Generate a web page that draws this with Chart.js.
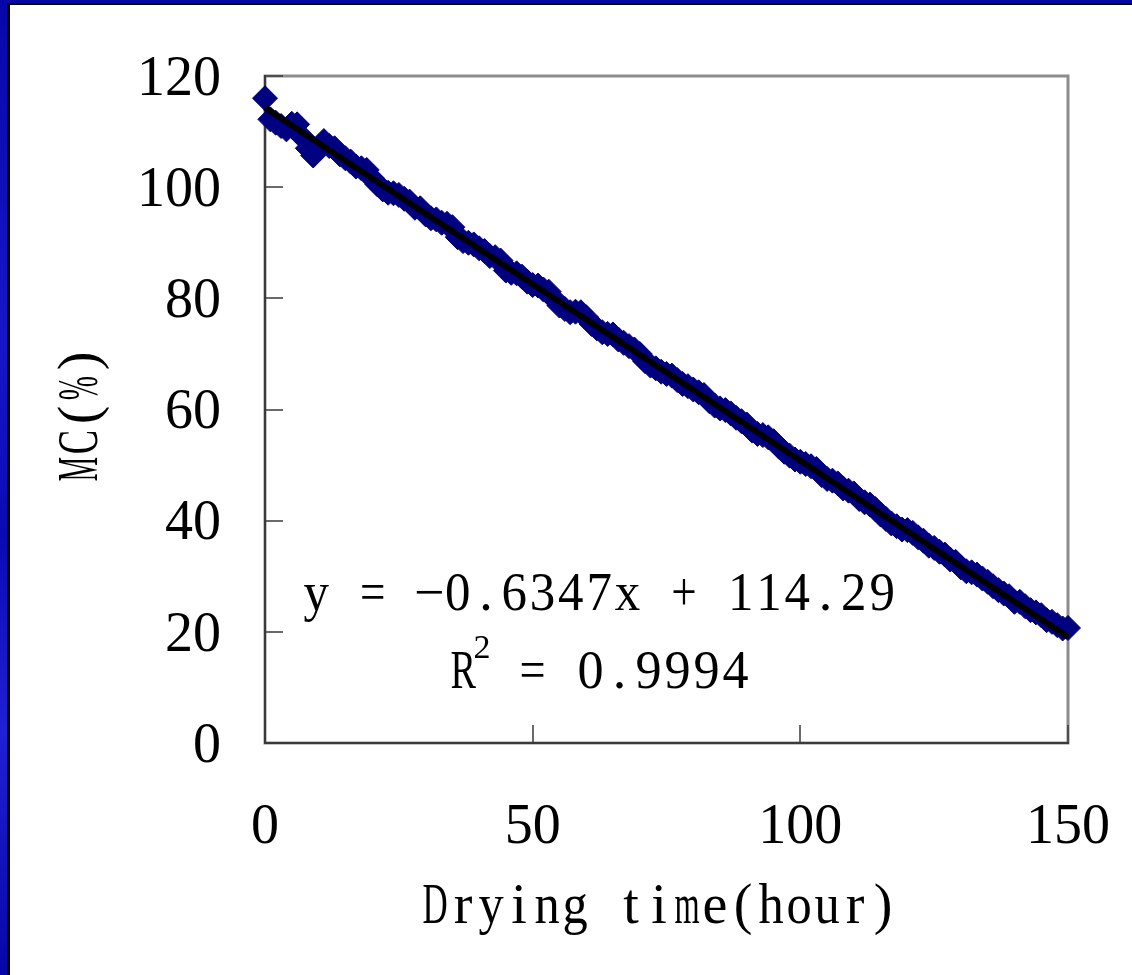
<!DOCTYPE html>
<html>
<head>
<meta charset="utf-8">
<script src="https://cdn.jsdelivr.net/npm/chart.js@4/dist/chart.umd.min.js"></script>
<style>
  html, body { margin: 0; padding: 0; }
  body {
    width: 1132px; height: 975px; position: relative; overflow: hidden;
    background: linear-gradient(180deg, #0707a8 0%, #1616c8 35%, #0a0ab4 55%, #2020d4 75%, #0606a6 100%);
  }
  .frame {
    position: absolute; left: 7px; top: 3px; right: 0; bottom: 0;
    background: #fff; border-left: 3px solid #000; border-top: 2px solid #000;
  }
  .wrap { position: absolute; left: 0; top: 0; width: 1132px; height: 975px; }
</style>
</head>
<body>
<div class="frame"></div>
<div class="wrap"><canvas id="chart" width="1132" height="975"></canvas></div>
<script>
// drying time (hour) and moisture content (%)
const hours = [
  0, 1, 2, 3, 4, 5, 6, 7, 8, 9, 10, 11, 12, 13, 14, 15, 16, 17, 18, 19,
  20, 21, 22, 23, 24, 25, 26, 27, 28, 29, 30, 31, 32, 33, 34, 35, 36, 37, 38, 39,
  40, 41, 42, 43, 44, 45, 46, 47, 48, 49, 50, 51, 52, 53, 54, 55, 56, 57, 58, 59,
  60, 61, 62, 63, 64, 65, 66, 67, 68, 69, 70, 71, 72, 73, 74, 75, 76, 77, 78, 79,
  80, 81, 82, 83, 84, 85, 86, 87, 88, 89, 90, 91, 92, 93, 94, 95, 96, 97, 98, 99,
  100, 101, 102, 103, 104, 105, 106, 107, 108, 109, 110, 111, 112, 113, 114, 115, 116, 117, 118, 119,
  120, 121, 122, 123, 124, 125, 126, 127, 128, 129, 130, 131, 132, 133, 134, 135, 136, 137, 138, 139,
  140, 141, 142, 143, 144, 145, 146, 147, 148, 149, 150];
const moisture = [
  116.0, 112.2, 111.6, 111.0, 110.4, 111.4, 111.3, 109.0, 107.0, 105.7, 107.2, 108.3, 107.4, 107.0, 105.9, 105.2, 104.6, 103.7, 103.4, 103.1,
  101.6, 100.5, 99.6, 99.0, 98.9, 98.6, 97.9, 97.4, 96.3, 96.2, 95.1, 94.4, 94.2, 93.6, 93.4, 92.8, 91.0, 90.3, 90.0, 89.7,
  89.0, 88.5, 87.6, 87.4, 86.8, 85.0, 84.6, 84.5, 83.9, 83.0, 82.4, 82.3, 81.6, 81.2, 79.9, 78.7, 78.1, 77.5, 77.6, 77.5,
  76.6, 75.4, 74.6, 73.9, 73.6, 73.5, 72.6, 72.0, 71.4, 70.8, 70.0, 68.7, 67.9, 67.4, 66.8, 66.4, 66.1, 65.3, 64.6, 64.2,
  63.6, 63.1, 62.6, 61.5, 60.7, 60.2, 59.9, 59.3, 58.5, 57.9, 57.3, 56.2, 55.6, 55.4, 55.0, 54.3, 53.3, 52.4, 51.7, 51.0,
  50.6, 50.2, 49.8, 49.3, 48.2, 47.5, 47.2, 46.7, 45.8, 45.4, 44.9, 43.9, 43.3, 42.9, 42.1, 41.1, 40.3, 39.5, 39.0, 38.4,
  38.3, 37.8, 37.0, 36.4, 35.5, 35.1, 34.4, 33.9, 33.0, 32.6, 31.6, 30.9, 30.7, 30.3, 29.6, 29.0, 28.2, 27.5, 26.9, 26.4,
  25.4, 25.4, 24.6, 23.9, 23.5, 23.0, 22.1, 21.8, 21.2, 20.6, 20.7];

// linear trendline from the figure
const slope = -0.6347;
const intercept = 114.29;
const trendRange = [0, 150];

const xTicks = [0, 50, 100, 150];
const yTicks = [0, 20, 40, 60, 80, 100, 120];

const xTitle = 'Drying time(hour)';
const yTitle = 'MC(%)';
const eqLine = 'y = \u22120.6347x + 114.29';
const r2Value = ' = 0.9994';

const serif = "'Liberation Serif', 'DejaVu Serif', serif";

// one char per cell, squeezing wide glyphs, to look like the half-width font of the original
function monoText(ctx, text, x0, cell, y) {
  for (let i = 0; i < text.length; i++) {
    const ch = text[i];
    const w = ctx.measureText(ch).width;
    const k = ch === '\u2212' ? 1 : Math.min(1, cell * 0.9 / w);
    ctx.save();
    ctx.translate(x0 + (i + 0.5) * cell, y);
    ctx.scale(k, 1);
    ctx.fillText(ch, 0, 0);
    ctx.restore();
  }
}

const decorations = {
  id: 'decorations',
  beforeDraw(chart) {
    const {ctx, chartArea: a} = chart;
    ctx.save();
    ctx.strokeStyle = '#8c8c8c';
    ctx.lineWidth = 3;
    ctx.strokeRect(a.left, a.top, a.right - a.left, a.bottom - a.top);
    ctx.restore();
  },
  beforeDatasetsDraw(chart) {
    const {ctx, chartArea: a, scales: {x, y}} = chart;
    ctx.save();
    ctx.strokeStyle = '#3a3a3a';
    ctx.lineWidth = 1.5;
    ctx.beginPath();
    yTicks.forEach(v => {
      const py = Math.round(y.getPixelForValue(v));
      ctx.moveTo(a.left, py);
      ctx.lineTo(a.left + 18, py);
    });
    xTicks.forEach(v => {
      const px = Math.round(x.getPixelForValue(v));
      ctx.moveTo(px, a.bottom);
      ctx.lineTo(px, a.bottom - 18);
    });
    ctx.stroke();
    ctx.restore();
  },
  afterDraw(chart) {
    const {ctx} = chart;
    ctx.save();
    ctx.fillStyle = '#000';
    ctx.textAlign = 'center';
    ctx.textBaseline = 'alphabetic';

    // axis titles
    ctx.font = '56px ' + serif;
    monoText(ctx, xTitle, 421, 28, 923);
    ctx.save();
    ctx.translate(97, 415);
    ctx.rotate(-Math.PI / 2);
    monoText(ctx, yTitle, -67.5, 27, 0);
    ctx.restore();

    // regression equation
    ctx.font = '54px ' + serif;
    monoText(ctx, eqLine, 302, 28.3, 610);
    monoText(ctx, 'R', 449, 28.3, 688);
    ctx.font = '34px ' + serif;
    ctx.fillText('2', 482, 658);
    ctx.font = '54px ' + serif;
    monoText(ctx, r2Value, 489, 29, 688);
    ctx.restore();
  }
};

const chart = new Chart(document.getElementById('chart'), {
  type: 'scatter',
  data: {
    datasets: [
      {
        label: 'trend',
        type: 'line',
        data: trendRange.map(h => ({x: h, y: slope * h + intercept})),
        borderColor: '#000',
        borderWidth: 6,
        pointRadius: 0,
        fill: false,
        order: 0
      },
      {
        label: 'MC',
        data: hours.map((h, i) => ({x: h, y: moisture[i]})),
        pointStyle: 'rectRot',
        pointRadius: 12.5,
        backgroundColor: '#000080',
        borderColor: '#000080',
        borderWidth: 1,
        order: 1
      }
    ]
  },
  options: {
    responsive: false,
    animation: false,
    clip: false,
    layout: { padding: { left: 0, top: 76, right: 64, bottom: 0 } },
    plugins: {
      legend: { display: false },
      tooltip: { enabled: false }
    },
    scales: {
      x: {
        type: 'linear',
        min: 0,
        max: 150,
        afterBuildTicks: s => { s.ticks = xTicks.map(v => ({value: v})); },
        afterFit: s => { s.height = 232; },
        // invisible outer ticks only push the labels down
        grid: { display: true, drawOnChartArea: false, drawTicks: true, tickLength: 40, tickColor: 'rgba(0,0,0,0)' },
        border: { display: true, color: '#3a3a3a', width: 2 },
        ticks: {
          color: '#000',
          padding: 12,
          maxRotation: 0,
          font: { family: serif, size: 56 }
        }
      },
      y: {
        type: 'linear',
        min: 0,
        max: 120,
        afterBuildTicks: s => { s.ticks = yTicks.map(v => ({value: v})); },
        afterFit: s => { s.width = 265; },
        grid: { display: true, drawOnChartArea: false, drawTicks: true, tickLength: 30, tickColor: 'rgba(0,0,0,0)' },
        border: { display: true, color: '#3a3a3a', width: 2 },
        ticks: {
          color: '#000',
          padding: 14,
          labelOffset: 4,
          font: { family: serif, size: 56 }
        }
      }
    }
  },
  plugins: [decorations]
});
</script>
</body>
</html>
